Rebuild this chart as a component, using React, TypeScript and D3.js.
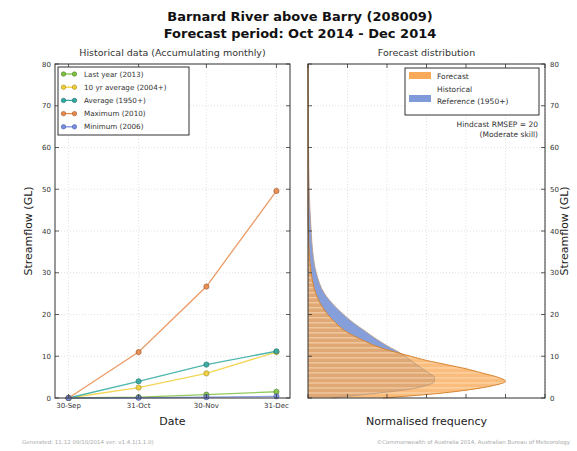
import React from "react";
import * as d3 from "d3";

const W = 577, H = 451;
const dates = ["2014-09-30", "2014-10-31", "2014-11-30", "2014-12-31"];
const dateLabels = ["30-Sep", "31-Oct", "30-Nov", "31-Dec"];
const lastYear = [0, 0.2, 0.8, 1.5];
const tenYrAvg = [0, 2.5, 5.9, 11.0];
const average = [0, 4.0, 8.0, 11.2];
const maximum = [0, 11.0, 26.7, 49.6];
const minimum = [0, 0.05, 0.2, 0.4];
const seriesNames = ["Last year (2013)", "10 yr average (2004+)", "Average (1950+)", "Maximum (2010)", "Minimum (2006)"];
const seriesColors = ["#7fc241", "#f2cf3a", "#2fa9a0", "#e8894a", "#7b8fe0"];
const seriesEdges = ["#4c7a22", "#a08a1c", "#1c6a64", "#9a5226", "#445aa8"];
const yTicks = [0, 10, 20, 30, 40, 50, 60, 70, 80];

const gl = [0, 1, 2, 3, 4, 5, 6, 7, 8, 9, 10, 11, 12, 14, 16, 18, 20, 22, 25, 30, 35, 40, 45, 50, 60, 70, 80];
const forecastDens = [1.9, 3.2, 4.1, 4.7, 5.0, 4.8, 4.4, 4.0, 3.5, 3.0, 2.6, 2.2, 1.85, 1.35, 0.95, 0.7, 0.5, 0.35, 0.2, 0.08, 0.03, 0.01, 0, 0, 0, 0, 0];
const historicalDens = [0.6, 1.6, 2.5, 3.0, 3.2, 3.2, 3.05, 2.9, 2.75, 2.6, 2.45, 2.3, 2.1, 1.75, 1.45, 1.15, 0.9, 0.68, 0.42, 0.21, 0.12, 0.08, 0.05, 0.03, 0.015, 0.008, 0];
const freqTicks = [0, 1, 2, 3, 4, 5, 6];

const top = 64, bottom = 398;
const L = { x0: 55, x1: 290 };
const R = { x0: 308, x1: 545 };

export default function App() {
  const y = d3.scaleLinear().domain([0, 80]).range([bottom, top]);
  const x = d3.scaleTime().domain([new Date("2014-09-24"), new Date("2015-01-06")]).range([L.x0, L.x1]);
  const fx = d3.scaleLinear().domain([0, 6]).range([R.x0, R.x1]);
  const dts = dates.map((d) => new Date(d));
  const series = [lastYear, tenYrAvg, average, maximum, minimum];
  const line = d3.line<number>().x((_, i) => x(dts[i])).y((v) => y(v));
  const areaF = d3.area<number>().curve(d3.curveMonotoneY).y((_, i) => y(gl[i])).x0(fx(0)).x1((v) => fx(v));
  const lineF = d3.line<number>().curve(d3.curveMonotoneY).y((_, i) => y(gl[i])).x((v) => fx(v));
  const stripes = d3.range(0, 60, 1.2);
  const font = "DejaVu Sans, sans-serif";
  const grid = "#cccccc";

  return (
    <svg width={W} height={H} style={{ position: "absolute", left: 0, top: 0, background: "#fff" }} fontFamily={font}>
      <defs>
        <clipPath id="fclip"><path d={areaF(forecastDens) || ""} /></clipPath>
      </defs>
      <text x={300} y={21} textAnchor="middle" fontSize={13} fontWeight="bold" fill="#111">Barnard River above Barry (208009)</text>
      <text x={300} y={38} textAnchor="middle" fontSize={13} fontWeight="bold" fill="#111">Forecast period: Oct 2014 - Dec 2014</text>
      <text x={(L.x0 + L.x1) / 2} y={56} textAnchor="middle" fontSize={9.5} fill="#333">Historical data (Accumulating monthly)</text>
      <text x={(R.x0 + R.x1) / 2} y={56} textAnchor="middle" fontSize={9.5} fill="#333">Forecast distribution</text>

      {yTicks.map((t) => (
        <line key={"lg" + t} x1={L.x0} x2={L.x1} y1={y(t)} y2={y(t)} stroke={grid} strokeWidth={0.6} strokeDasharray="1,2" />
      ))}
      {dts.map((d, i) => (
        <line key={"lv" + i} x1={x(d)} x2={x(d)} y1={top} y2={bottom} stroke={grid} strokeWidth={0.6} strokeDasharray="1,2" />
      ))}
      {yTicks.map((t) => (
        <line key={"rg" + t} x1={R.x0} x2={R.x1} y1={y(t)} y2={y(t)} stroke={grid} strokeWidth={0.6} strokeDasharray="1,2" />
      ))}
      {freqTicks.map((t) => (
        <line key={"rv" + t} x1={fx(t)} x2={fx(t)} y1={top} y2={bottom} stroke={grid} strokeWidth={0.6} strokeDasharray="1,2" />
      ))}

      {series.map((s, k) => (
        <g key={"s" + k}>
          <path d={line(s) || ""} fill="none" stroke={seriesColors[k]} strokeWidth={1.3} opacity={0.85} />
          {s.map((v, i) => (
            <circle key={i} cx={x(dts[i])} cy={y(v)} r={2.6} fill={seriesColors[k]} stroke={seriesEdges[k]} strokeWidth={0.7} opacity={0.9} />
          ))}
        </g>
      ))}

      <path d={areaF(historicalDens) || ""} fill="#7f9ad9" opacity={0.95} />
      <path d={areaF(forecastDens) || ""} fill="#f8aa58" opacity={0.78} />
      <g clipPath="url(#fclip)">
        {stripes.map((s) => (
          <line key={"st" + s} x1={R.x0} x2={R.x1} y1={y(s)} y2={y(s)} stroke="#fde3c4" strokeWidth={0.8} />
        ))}
      </g>
      <path d={lineF(historicalDens) || ""} fill="none" stroke="#b89a80" strokeWidth={1} opacity={0.8} />
      <path d={lineF(forecastDens) || ""} fill="none" stroke="#d8842f" strokeWidth={1} />

      <rect x={L.x0} y={top} width={L.x1 - L.x0} height={bottom - top} fill="none" stroke="#333" strokeWidth={1} />
      <rect x={R.x0} y={top} width={R.x1 - R.x0} height={bottom - top} fill="none" stroke="#333" strokeWidth={1} />

      {yTicks.map((t) => (
        <g key={"ly" + t}>
          <line x1={L.x0} x2={L.x0 + 4} y1={y(t)} y2={y(t)} stroke="#333" strokeWidth={0.8} />
          <line x1={L.x1} x2={L.x1 - 4} y1={y(t)} y2={y(t)} stroke="#333" strokeWidth={0.8} />
          <text x={L.x0 - 4} y={y(t) + 2.5} textAnchor="end" fontSize={7} fill="#333">{t}</text>
          <line x1={R.x0} x2={R.x0 + 4} y1={y(t)} y2={y(t)} stroke="#333" strokeWidth={0.8} />
          <line x1={R.x1} x2={R.x1 - 4} y1={y(t)} y2={y(t)} stroke="#333" strokeWidth={0.8} />
          <text x={R.x1 + 5} y={y(t) + 2.5} textAnchor="start" fontSize={7} fill="#333">{t}</text>
        </g>
      ))}
      {dts.map((d, i) => (
        <g key={"lx" + i}>
          <line x1={x(d)} x2={x(d)} y1={bottom} y2={bottom - 4} stroke="#333" strokeWidth={0.8} />
          <line x1={x(d)} x2={x(d)} y1={top} y2={top + 4} stroke="#333" strokeWidth={0.8} />
          <text x={x(d)} y={bottom + 10} textAnchor="middle" fontSize={7} fill="#333">{dateLabels[i]}</text>
        </g>
      ))}
      {freqTicks.map((t) => (
        <g key={"fx" + t}>
          <line x1={fx(t)} x2={fx(t)} y1={bottom} y2={bottom - 4} stroke="#333" strokeWidth={0.8} />
          <line x1={fx(t)} x2={fx(t)} y1={top} y2={top + 4} stroke="#333" strokeWidth={0.8} />
        </g>
      ))}

      <text transform={`translate(32,${(top + bottom) / 2}) rotate(-90)`} textAnchor="middle" fontSize={11} fill="#222">Streamflow (GL)</text>
      <text transform={`translate(568,${(top + bottom) / 2}) rotate(-90)`} textAnchor="middle" fontSize={11} fill="#222">Streamflow (GL)</text>
      <text x={(L.x0 + L.x1) / 2} y={425} textAnchor="middle" fontSize={11} fill="#222">Date</text>
      <text x={(R.x0 + R.x1) / 2} y={425} textAnchor="middle" fontSize={11} fill="#222">Normalised frequency</text>

      <rect x={58} y={67} width={131} height={68} fill="#fff" stroke="#333" strokeWidth={1} />
      {seriesNames.map((n, k) => {
        const yy = 74 + k * 13.2;
        return (
          <g key={"lg" + k}>
            <line x1={62} x2={76} y1={yy} y2={yy} stroke={seriesColors[k]} strokeWidth={1.3} />
            <circle cx={63.5} cy={yy} r={2.2} fill={seriesColors[k]} stroke={seriesEdges[k]} strokeWidth={0.6} />
            <circle cx={74.5} cy={yy} r={2.2} fill={seriesColors[k]} stroke={seriesEdges[k]} strokeWidth={0.6} />
            <text x={84} y={yy + 2.6} fontSize={7.2} fill="#333">{n}</text>
          </g>
        );
      })}

      <rect x={405} y={68} width={134} height={47} fill="#fff" stroke="#333" strokeWidth={1} />
      <rect x={409} y={72} width={22} height={7} fill="#f8aa58" />
      <text x={437} y={79} fontSize={7.5} fill="#333">Forecast</text>
      <rect x={409} y={95} width={22} height={7} fill="#7f9ad9" />
      <text x={437} y={92} fontSize={7.5} fill="#333">Historical</text>
      <text x={437} y={104} fontSize={7.5} fill="#333">Reference (1950+)</text>
      <text x={538} y={127} textAnchor="end" fontSize={7.5} fill="#333">Hindcast RMSEP = 20</text>
      <text x={538} y={137} textAnchor="end" fontSize={7.5} fill="#333">(Moderate skill)</text>

      <text x={22} y={444} fontSize={5.5} fill="#aaa">Generated: 11:12 09/10/2014 ver: v1.4.1(1.1.0)</text>
      <text x={570} y={444} textAnchor="end" fontSize={5.5} fill="#aaa">©Commonwealth of Australia 2014, Australian Bureau of Meteorology</text>
    </svg>
  );
}
